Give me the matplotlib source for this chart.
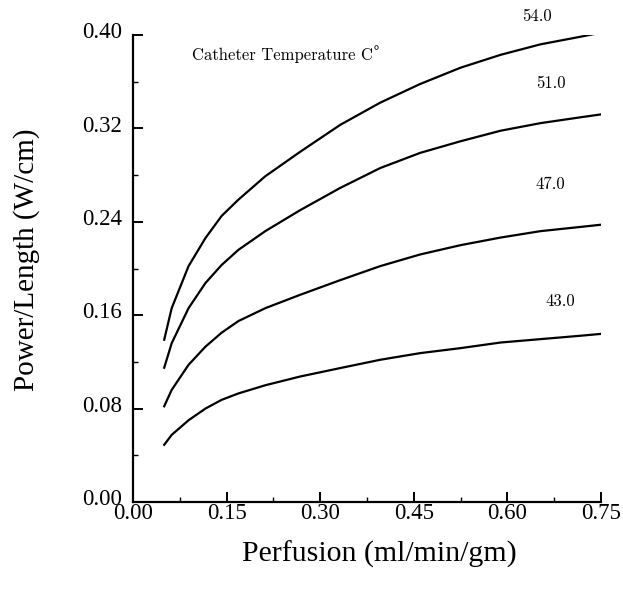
import numpy as np
import matplotlib
matplotlib.use("Agg")
import matplotlib.pyplot as plt
import matplotlib.transforms as mtransforms
from matplotlib.ticker import MultipleLocator, FormatStrFormatter

# perfusion (ml/min/gm)
perfusion = [0.05, 0.062, 0.089, 0.116, 0.142, 0.169, 0.212, 0.268, 0.332,
             0.396, 0.460, 0.525, 0.589, 0.653, 0.717, 0.75]

# power per length (W/cm) for each catheter temperature
p54 = [0.139, 0.166, 0.202, 0.226, 0.245, 0.259, 0.279, 0.300, 0.323,
       0.342, 0.358, 0.372, 0.383, 0.392, 0.3985, 0.402]
p51 = [0.115, 0.136, 0.166, 0.1875, 0.203, 0.216, 0.232, 0.250, 0.269,
       0.286, 0.299, 0.309, 0.318, 0.3245, 0.3295, 0.332]
p47 = [0.082, 0.096, 0.1175, 0.133, 0.145, 0.155, 0.166, 0.1775, 0.190,
       0.202, 0.212, 0.220, 0.2265, 0.232, 0.2356, 0.2375]
p43 = [0.049, 0.0575, 0.070, 0.080, 0.0875, 0.093, 0.100, 0.1075, 0.1147,
       0.1218, 0.1275, 0.1318, 0.1366, 0.1395, 0.1424, 0.144]

temps = ["54.0", "51.0", "47.0", "43.0"]
series = [p54, p51, p47, p43]
label_pos = [(0.648, 0.416), (0.669, 0.359), (0.669, 0.272), (0.685, 0.1715)]

serif = ["Liberation Serif", "DejaVu Serif"]
small = ["cmr10", "DejaVu Serif"]

fig = plt.figure(figsize=(6.23, 5.90), dpi=100)
ax = fig.add_axes([133 / 623, 1 - 502 / 590, 468 / 623, 467 / 590])

for vals, t, (lx, ly) in zip(series, temps, label_pos):
    ax.plot(perfusion, vals, color="black", lw=1.6, solid_joinstyle="round")
    ax.text(lx, ly, t, family=small, fontsize=12, ha="center", va="center",
            clip_on=False)

# title text; the degree sign comes from another font (cmr10 maps it wrong)
title = ax.text(0.0947, 0.3825, "Catheter Temperature C", family=small,
                fontsize=12, ha="left", va="center")
ax.annotate("°", xy=(1, 0.72), xycoords=title, family="DejaVu Serif",
            fontsize=10, ha="left", va="center")

ax.set_xlim(0, 0.75)
ax.set_ylim(0, 0.40)
ax.xaxis.set_major_locator(MultipleLocator(0.15))
ax.xaxis.set_minor_locator(MultipleLocator(0.075))
ax.yaxis.set_major_locator(MultipleLocator(0.08))
ax.yaxis.set_minor_locator(MultipleLocator(0.04))
ax.xaxis.set_major_formatter(FormatStrFormatter("%.2f"))
ax.yaxis.set_major_formatter(FormatStrFormatter("%.2f"))

for s in ["top", "right"]:
    ax.spines[s].set_visible(False)
for s in ["left", "bottom"]:
    ax.spines[s].set_linewidth(1.6)

ax.tick_params(which="major", direction="in", length=7, width=1.4)
ax.tick_params(which="minor", direction="in", length=3.5, width=1.0)
ax.tick_params(axis="x", which="major", pad=1)
ax.tick_params(axis="y", which="major", pad=8)

# y tick labels sit a little above their ticks in the original
lift = mtransforms.ScaledTranslation(0, 3.5 / 72, fig.dpi_scale_trans)
for lab in ax.get_yticklabels():
    lab.set_transform(lab.get_transform() + lift)
for lab in ax.get_xticklabels() + ax.get_yticklabels():
    lab.set_family(serif)
    lab.set_fontsize(16.5)

ax.set_xlabel("Perfusion (ml/min/gm)", family=serif, fontsize=21.5)
ax.set_ylabel("Power/Length (W/cm)", family=serif, fontsize=21)
ax.xaxis.set_label_coords(0.526, -0.083)
ax.yaxis.set_label_coords(-0.199, 0.518)

fig.savefig("out.png", dpi=100)
